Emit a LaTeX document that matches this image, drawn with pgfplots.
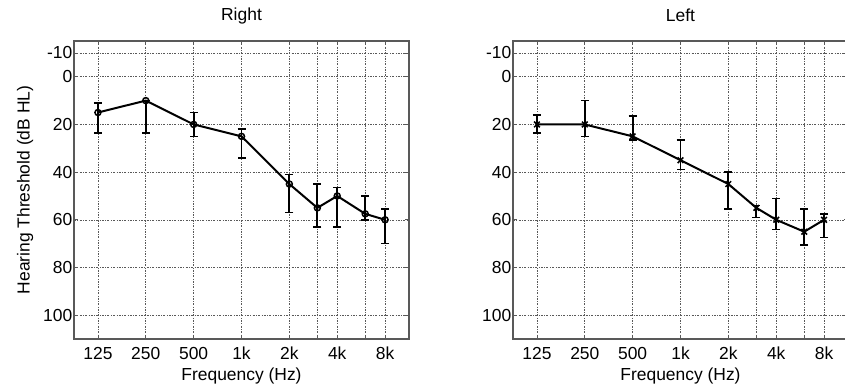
\documentclass[border=0pt]{standalone}
\usepackage{fontspec}
\setmainfont{Liberation Sans}
\usepackage{pgfplots}
\usepackage{pgfplotstable}
\pgfplotsset{compat=1.18}

\pgfplotstableread{
x y ep em
125 15 8.5 4
250 10 13.5 0
500 20 5 5
1000 25 9 3
2000 45 12 4
3000 55 8 10
4000 50 13 3.5
6000 57.5 2.5 7.5
8000 60 10 4.5
}\rightear

\pgfplotstableread{
x y ep em
125 20 3.5 4
250 20 5 10
500 25 1.5 8.5
1000 35 4 8.5
2000 45 10.5 5
3000 55 4 1
4000 60 4 9
6000 65 5.5 9.5
8000 60 7.5 2.5
}\leftear

\newcommand{\fnt}{\fontsize{17.5}{21}\selectfont}

\begin{document}
\begin{tikzpicture}
\begin{axis}[
    at={(74bp,45bp)}, anchor=south west,
    width=335bp, height=298bp, scale only axis,
    xmode=log, log basis x=2,
    xmin=88.388, xmax=11313.7,
    ymin=-15, ymax=110, y dir=reverse,
    xtick={125,250,500,1000,2000,3000,4000,6000,8000},
    xticklabels={125,250,500,1k,2k,,4k,,8k},
    ytick={-10,0,20,40,60,80,100},
    yticklabel style={/pgf/number format/assume math mode=true, inner sep=1.5pt, font=\fnt},
    xticklabel style={inner sep=0pt, yshift=-8bp, font=\fnt},
    grid=major,
    major grid style={gray!70!black, line width=0.6bp, dash pattern=on 2pt off 1.5pt on 0.6pt off 1.5pt},
    axis line style={black!65, line width=1.3bp},
    tick style={black!65, line width=0.8bp},
    major tick length=4bp,
    tick align=inside,
    xlabel={Frequency (Hz)},
    xlabel style={at={(axis description cs:0.5,-0.124)}, anchor=center, font=\fnt},
    title={Right},
    title style={at={(axis description cs:0.5,1.065)}, anchor=center, font=\fnt},
    ylabel={Hearing Threshold (dB HL)},
    ylabel style={at={(axis description cs:-0.146,0.5)}, anchor=center, font=\fnt},
    clip=false]
\addplot[black, line width=2bp, mark=o, mark size=3bp, mark options={line width=1.5bp},
  error bars/.cd, y dir=both, y explicit,
  error bar style={line width=1.8bp},
  error mark options={rotate=90, mark size=4bp, line width=1.5bp}]
  table[x=x, y=y, y error plus=ep, y error minus=em] {\rightear};
\end{axis}
\begin{axis}[
    at={(513bp,45bp)}, anchor=south west,
    width=335bp, height=298bp, scale only axis,
    xmode=log, log basis x=2,
    xmin=88.388, xmax=11313.7,
    ymin=-15, ymax=110, y dir=reverse,
    xtick={125,250,500,1000,2000,3000,4000,6000,8000},
    xticklabels={125,250,500,1k,2k,,4k,,8k},
    ytick={-10,0,20,40,60,80,100},
    yticklabel style={/pgf/number format/assume math mode=true, inner sep=1.5pt, font=\fnt},
    xticklabel style={inner sep=0pt, yshift=-8bp, font=\fnt},
    grid=major,
    major grid style={gray!70!black, line width=0.6bp, dash pattern=on 2pt off 1.5pt on 0.6pt off 1.5pt},
    axis line style={black!65, line width=1.3bp},
    tick style={black!65, line width=0.8bp},
    major tick length=4bp,
    tick align=inside,
    xlabel={Frequency (Hz)},
    xlabel style={at={(axis description cs:0.5,-0.124)}, anchor=center, font=\fnt},
    title={Left},
    title style={at={(axis description cs:0.5,1.065)}, anchor=center, font=\fnt},
    clip=false]
\addplot[black, line width=2bp, mark=x, mark size=4bp, mark options={line width=1.5bp},
  error bars/.cd, y dir=both, y explicit,
  error bar style={line width=1.8bp},
  error mark options={rotate=90, mark size=4bp, line width=1.5bp}]
  table[x=x, y=y, y error plus=ep, y error minus=em] {\leftear};
\end{axis}
\pgfresetboundingbox
\path[use as bounding box] (0,0) rectangle (845bp,384bp);
\end{tikzpicture}
\end{document}
